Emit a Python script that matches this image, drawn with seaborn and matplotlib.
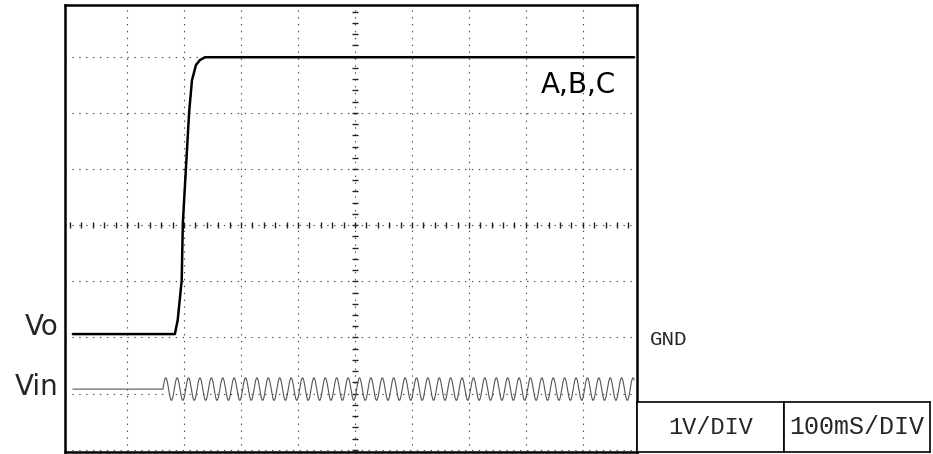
import numpy as np
import pandas as pd
import matplotlib
matplotlib.use("Agg")
import matplotlib.pyplot as plt
import seaborn as sns

# ---- data (time in ms, level in divisions, 1 V/div) ----
vo_time_ms = [5, 184, 189, 196, 198, 209, 214, 221, 228, 237, 990]
vo_div = [2.06, 2.06, 2.31, 3.02, 4.04, 6.01, 6.58, 6.85, 6.94, 6.99, 6.99]

vin_level_div = 1.08
vin_start_ms = 163
vin_end_ms = 990
vin_amp_div = 0.20
vin_period_ms = 20.0

labels_left = ["Vo", "Vin"]
trace_label = "A,B,C"
gnd_label = "GND"
scale_labels = ["1V/DIV", "100mS/DIV"]

# ---- build tables ----
vo_df = pd.DataFrame({"t": vo_time_ms, "v": vo_div})
t_ac = np.linspace(vin_start_ms, vin_end_ms, 4000)
vin_df = pd.concat([
    pd.DataFrame({"t": [5, vin_start_ms], "v": [vin_level_div, vin_level_div]}),
    pd.DataFrame({"t": t_ac,
                  "v": vin_level_div + vin_amp_div * np.sin(2 * np.pi * (t_ac - vin_start_ms) / vin_period_ms)}),
])

sns.set_style("white")
W, H = 933, 454
fig = plt.figure(figsize=(W / 100, H / 100), dpi=100)

L, R, T, B = 65, 637, 5, 452
ax = fig.add_axes([L / W, (H - B) / H, (R - L) / W, (B - T) / H])
ax.set_xlim(-8.8, 995)
ax.set_ylim(-0.04, 7.92)

grid_kw = dict(color="#444444", linewidth=0.8, linestyle=(0, (1.2, 5)), zorder=1)
for k in range(1, 10):
    ax.axvline(k * 100, **grid_kw)
for k in range(0, 8):
    ax.axhline(k, **grid_kw)
# center graticule ticks
tk = np.arange(0, 1000, 20)
ax.plot(tk, np.full_like(tk, 4.0, dtype=float), linestyle="none", marker="|",
        markersize=5, color="#222222", markeredgewidth=1.0, zorder=1)
tky = np.arange(0, 8, 0.2)
ax.plot(np.full_like(tky, 500.0), tky, linestyle="none", marker="_",
        markersize=5, color="#222222", markeredgewidth=1.0, zorder=1)

sns.lineplot(data=vin_df, x="t", y="v", ax=ax, color="#555555", linewidth=0.8,
             estimator=None, sort=False, zorder=3)
sns.lineplot(data=vo_df, x="t", y="v", ax=ax, color="black", linewidth=1.8,
             estimator=None, sort=False, zorder=4)

ax.set_xticks([])
ax.set_yticks([])
ax.set_xlabel("")
ax.set_ylabel("")
for s in ax.spines.values():
    s.set_visible(True)
    s.set_color("black")
    s.set_linewidth(1.8)

ax.text(826, 6.35, trace_label, ha="left", va="baseline", fontsize=20,
        family="DejaVu Sans", color="black")

fig.text(59 / W, (H - 335) / H, labels_left[0], ha="right", va="baseline",
         fontsize=20, family="DejaVu Sans")
fig.text(59 / W, (H - 395) / H, labels_left[1], ha="right", va="baseline",
         fontsize=20, family="DejaVu Sans")
fig.text(650 / W, (H - 345) / H, gnd_label, ha="left", va="baseline",
         fontsize=15, family="Liberation Mono")

# scale boxes
cells = [(637, 784, 17), (784, 930, 18)]
for (x0, x1, fs), lab in zip(cells, scale_labels):
    cax = fig.add_axes([x0 / W, (H - 452) / H, (x1 - x0) / W, 50 / H])
    cax.set_xticks([])
    cax.set_yticks([])
    for s in cax.spines.values():
        s.set_visible(True)
        s.set_color("black")
        s.set_linewidth(1.2)
    cax.text(0.5, 0.5, lab, ha="center", va="center", fontsize=fs,
             family="Liberation Mono", transform=cax.transAxes)

fig.savefig("out.png", dpi=100)
